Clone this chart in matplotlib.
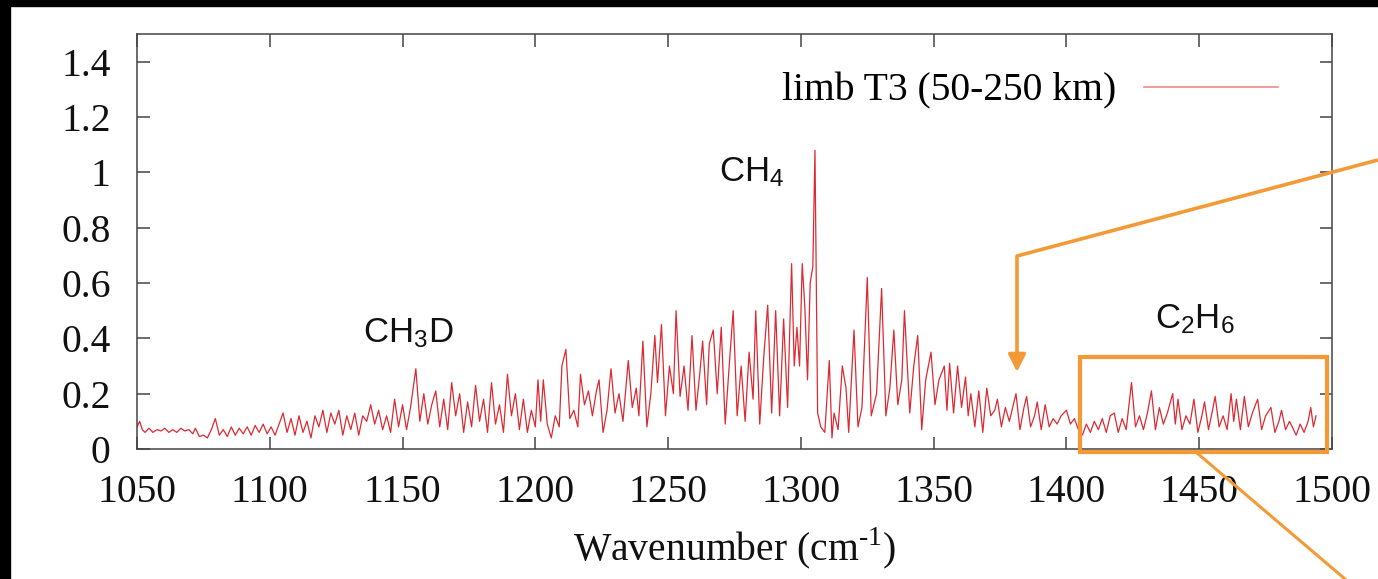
import numpy as np
import matplotlib
matplotlib.use('Agg')
import matplotlib.pyplot as plt
from matplotlib.patches import Rectangle, FancyArrowPatch
from matplotlib.lines import Line2D

plt.rcParams['font.family'] = ['Liberation Serif', 'DejaVu Serif']
plt.rcParams['mathtext.fontset'] = 'custom'
plt.rcParams['mathtext.rm'] = 'Liberation Serif'
plt.rcParams['mathtext.sf'] = 'Liberation Sans'

# spectrum (wavenumber, radiance)
wn = [1050, 1051, 1052, 1053, 1054.5, 1056, 1057.5, 1059, 1060.5, 1062, 1063.5, 1065, 1066.5, 1068,
      1069.5, 1071, 1072, 1073.5, 1075, 1076.5, 1078, 1079.5, 1081, 1082.5, 1084, 1085.5, 1087, 1088.5,
      1090, 1091.5, 1093, 1094.5, 1096, 1097.5, 1099, 1100.5, 1102, 1103.5, 1105, 1106.5, 1108, 1109.5,
      1111, 1112.5, 1114, 1115.5, 1117, 1118.5, 1120, 1121.5, 1123, 1124.5, 1126, 1127.5, 1129, 1130.5,
      1132, 1133.5, 1135, 1136.5, 1138, 1139.5, 1141, 1142.5, 1144, 1145.5, 1147, 1148.5, 1150, 1151.5,
      1153, 1155, 1156.5, 1158, 1159.5, 1161, 1162.5, 1164, 1165.5, 1167, 1168.5, 1170, 1171.5, 1173,
      1174.5, 1176, 1177.5, 1179, 1180.5, 1182, 1183.5, 1185, 1186.5, 1188, 1189.5, 1191, 1192.5, 1194,
      1195.5, 1197, 1198.5, 1200, 1201, 1202, 1203, 1204.5, 1206, 1207.5, 1209, 1210, 1211.5, 1213,
      1214.5, 1216, 1217, 1218.5, 1220, 1221.5, 1223, 1224, 1225.5, 1227, 1228.5, 1230, 1231.5, 1233,
      1235, 1236.5, 1238, 1239, 1240.5, 1242, 1243.5, 1245, 1246, 1247.5, 1249, 1250.5, 1252, 1253,
      1254.5, 1256, 1257.5, 1259, 1260.5, 1262, 1263, 1264.5, 1265.5, 1267, 1268.5, 1270, 1271.5, 1273,
      1274.5, 1276, 1277.5, 1279, 1280.5, 1282, 1283, 1284.5, 1286, 1287.5, 1289, 1290.5, 1292, 1293.5,
      1295, 1296.5, 1297.5, 1298.5, 1299.5, 1300.5, 1301.5, 1302.5, 1303.5, 1304.5, 1305.3, 1306.3,
      1307.5, 1309, 1310.7, 1311.7, 1312.5, 1314, 1315.6, 1317, 1318, 1320, 1321.5, 1323, 1325, 1326.5,
      1328.5, 1330.4, 1332, 1333.5, 1335, 1336.5, 1338, 1339, 1341, 1342.5, 1344, 1345.5, 1347, 1349,
      1350.5, 1352, 1354, 1355, 1356, 1357.5, 1359, 1360.5, 1362, 1363, 1364, 1365.5, 1367, 1368.5,
      1370, 1371.5, 1373, 1374, 1375.5, 1377, 1378.5, 1380, 1381, 1382.5, 1384, 1385, 1386.5, 1388,
      1389, 1390.5, 1392, 1393.5, 1395, 1396.5, 1398, 1400, 1401.5, 1403, 1404.5, 1406, 1407.5, 1409,
      1410.5, 1412, 1413.5, 1415, 1416.5, 1418, 1419.5, 1421, 1422.5, 1424.5, 1426, 1427.5, 1429, 1430.5,
      1432, 1433.5, 1435, 1436.5, 1438, 1440, 1441, 1442, 1443.5, 1445, 1446.5, 1448, 1449.5, 1451,
      1452, 1453.5, 1455, 1456, 1457.5, 1459, 1460.5, 1462, 1463, 1464, 1465.5, 1467, 1468.5, 1470,
      1472, 1473.5, 1475, 1477, 1478.5, 1480, 1481, 1482.5, 1484, 1485, 1486.5, 1488, 1489.5, 1491,
      1492, 1493, 1494]
rad = [0.08, 0.10, 0.07, 0.06, 0.075, 0.06, 0.07, 0.065, 0.075, 0.06, 0.07, 0.06, 0.075, 0.065,
       0.07, 0.055, 0.075, 0.045, 0.05, 0.04, 0.07, 0.11, 0.05, 0.07, 0.045, 0.08, 0.05, 0.075,
       0.055, 0.08, 0.05, 0.085, 0.06, 0.09, 0.055, 0.08, 0.05, 0.09, 0.13, 0.06, 0.11, 0.05,
       0.12, 0.06, 0.10, 0.04, 0.12, 0.08, 0.14, 0.06, 0.13, 0.09, 0.14, 0.05, 0.12, 0.07,
       0.13, 0.05, 0.12, 0.10, 0.16, 0.09, 0.14, 0.07, 0.12, 0.06, 0.18, 0.08, 0.16, 0.07,
       0.15, 0.29, 0.10, 0.20, 0.09, 0.16, 0.21, 0.08, 0.18, 0.07, 0.24, 0.12, 0.20, 0.06,
       0.17, 0.08, 0.23, 0.10, 0.18, 0.06, 0.24, 0.09, 0.16, 0.06, 0.27, 0.12, 0.20, 0.07,
       0.18, 0.06, 0.14, 0.08, 0.25, 0.10, 0.25, 0.09, 0.04, 0.12, 0.08, 0.30, 0.36, 0.11,
       0.14, 0.08, 0.27, 0.16, 0.21, 0.12, 0.21, 0.25, 0.06, 0.14, 0.29, 0.13, 0.20, 0.10,
       0.32, 0.15, 0.22, 0.12, 0.39, 0.08, 0.20, 0.41, 0.24, 0.45, 0.12, 0.30, 0.20, 0.50,
       0.19, 0.30, 0.14, 0.41, 0.14, 0.28, 0.39, 0.16, 0.38, 0.43, 0.20, 0.44, 0.09, 0.30,
       0.50, 0.12, 0.30, 0.10, 0.35, 0.18, 0.50, 0.09, 0.33, 0.52, 0.13, 0.50, 0.12, 0.47,
       0.15, 0.67, 0.30, 0.44, 0.30, 0.67, 0.51, 0.25, 0.60, 0.66, 1.08, 0.13,
       0.08, 0.06, 0.32, 0.04, 0.13, 0.07, 0.30, 0.22, 0.06, 0.43, 0.08, 0.15, 0.62, 0.12,
       0.20, 0.58, 0.12, 0.22, 0.43, 0.16, 0.25, 0.50, 0.13, 0.30, 0.41, 0.07, 0.25, 0.35,
       0.16, 0.25, 0.30, 0.14, 0.31, 0.13, 0.30, 0.15, 0.26, 0.12, 0.20, 0.08, 0.21, 0.06,
       0.22, 0.12, 0.14, 0.18, 0.08, 0.15, 0.10, 0.16, 0.20, 0.07, 0.15, 0.19, 0.08, 0.12,
       0.17, 0.07, 0.16, 0.08, 0.11, 0.09, 0.12, 0.14, 0.09, 0.11, 0.07, 0.05, 0.09, 0.06,
       0.10, 0.07, 0.11, 0.06, 0.12, 0.13, 0.06, 0.11, 0.07, 0.24, 0.08, 0.12, 0.07, 0.13,
       0.21, 0.07, 0.15, 0.09, 0.13, 0.20, 0.09, 0.18, 0.07, 0.12, 0.09, 0.18, 0.06, 0.12,
       0.17, 0.07, 0.14, 0.19, 0.08, 0.12, 0.07, 0.20, 0.10, 0.18, 0.07, 0.19, 0.08, 0.13,
       0.18, 0.07, 0.12, 0.15, 0.06, 0.10, 0.14, 0.07, 0.10, 0.08, 0.05, 0.09, 0.06, 0.10,
       0.15, 0.08, 0.12]

xticks = [1050, 1100, 1150, 1200, 1250, 1300, 1350, 1400, 1450, 1500]
yticks = [0, 0.2, 0.4, 0.6, 0.8, 1, 1.2, 1.4]
ytick_labels = ['0', '0.2', '0.4', '0.6', '0.8', '1', '1.2', '1.4']

W, H = 1378, 579
fig = plt.figure(figsize=(W / 100, H / 100), dpi=100)
ax = fig.add_axes([137 / W, 1 - 449 / H, (1332 - 137) / W, (449 - 34) / H])

ax.plot(wn, rad, color='#dc2a33', lw=0.9, label='limb T3 (50-250 km)')
ax.set_xlim(1050, 1500)
ax.set_ylim(0, 1.5)
ax.set_xticks(xticks)
ax.set_yticks(yticks)
ax.set_yticklabels(ytick_labels)
ax.tick_params(direction='in', length=9, width=1.1, top=True, right=True,
               labelsize=28.5, colors='#444444', labelcolor='#111111')
ax.tick_params(axis='x', pad=18)
ax.tick_params(axis='y', pad=19)
for s in ax.spines.values():
    s.set_color('#444444')
    s.set_linewidth(1.1)

ax.set_xlabel(r'Wavenumber (cm$^{\text{-1}}$)', fontsize=28.5, color='#111111', labelpad=10)

leg = ax.legend(loc='center right', bbox_to_anchor=(0.955, 0.863), frameon=False,
                markerfirst=False, fontsize=28.5, handlelength=3.4, handletextpad=0.7,
                borderpad=0, borderaxespad=0)
for h in leg.get_lines():
    h.set_color('#f08a8a')
    h.set_linewidth(1.2)

kw = dict(fontsize=25, family=['Liberation Sans', 'DejaVu Sans'], color='#111111',
          ha='center', va='center')
ax.text(1152, 0.42, r'$\mathsf{CH_3D}$', **kw)
ax.text(1281.5, 1.0, r'$\mathsf{CH_4}$', **kw)
ax.text(1448.5, 0.47, r'$\mathsf{C_2H_6}$', **kw)

# orange annotation overlay (figure pixels, y from top)
orange = '#f39a36'
def fp(x, y):
    return (x / W, 1 - y / H)

xs, ys = zip(fp(1378, 160), fp(1017, 256))
fig.add_artist(Line2D(xs, ys, transform=fig.transFigure, color=orange, lw=2.6,
                      solid_capstyle='butt'))
fig.add_artist(FancyArrowPatch(
    fp(1017, 256), fp(1017, 372), transform=fig.transFigure, arrowstyle='-|>',
    mutation_scale=26, color=orange, lw=2.6, shrinkA=0, shrinkB=0))
fig.add_artist(Rectangle(fp(1080, 452), (1327 - 1080) / W, (452 - 357) / H,
                         transform=fig.transFigure, fill=False, edgecolor=orange, lw=3))
xs, ys = zip(fp(1197, 453), fp(1345, 579))
fig.add_artist(Line2D(xs, ys, transform=fig.transFigure, color=orange, lw=2.2))

# black frame at top/left edge of the screenshot
fig.add_artist(Rectangle((0, 1 - 6 / H), 1, 6 / H, transform=fig.transFigure,
                         color='black', zorder=10))
fig.add_artist(Rectangle((0, 0), 10 / W, 1, transform=fig.transFigure,
                         color='black', zorder=10))

fig.savefig('out.png', dpi=100)
